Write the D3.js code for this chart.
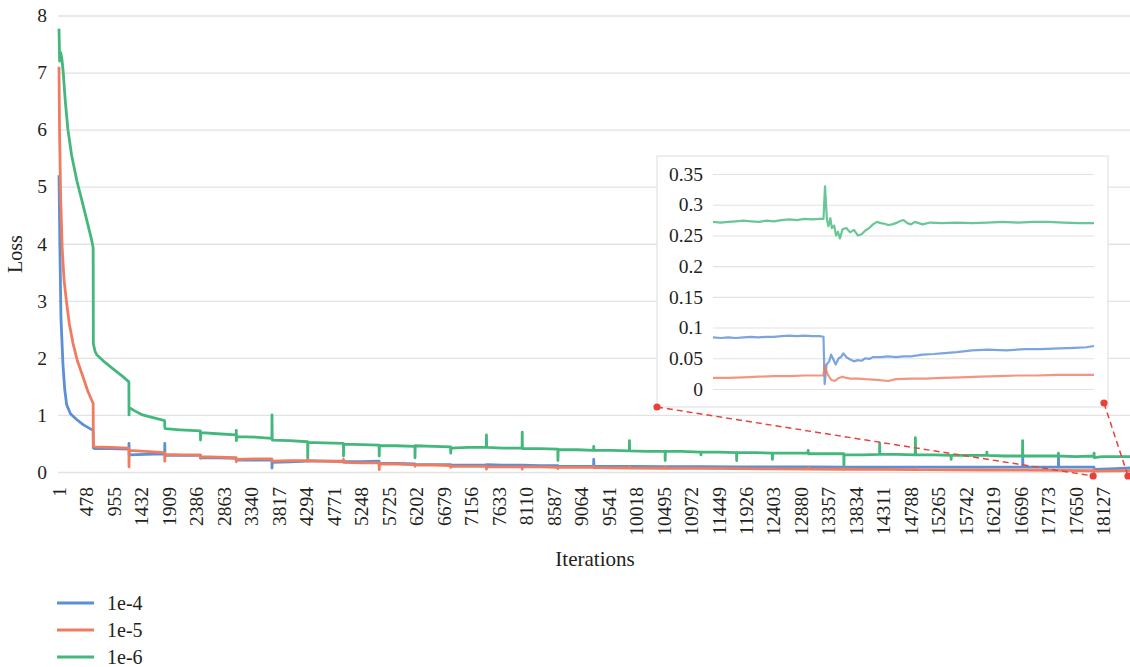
<!DOCTYPE html>
<html>
<head>
<meta charset="utf-8">
<script src="https://cdn.jsdelivr.net/npm/d3@7"></script>
<style>
  html, body { margin: 0; padding: 0; background: #fff; }
  svg { display: block; }
</style>
</head>
<body>
<svg id="chart" width="1130" height="667"></svg>
<script>
// ---- data ---------------------------------------------------------------
const seriesNames = ["1e-4", "1e-5", "1e-6"];
const seriesColors = ["#5b8fd6", "#f07c60", "#44b87c"];

const xTickLabels = [1, 478, 955, 1432, 1909, 2386, 2863, 3340, 3817, 4294, 4771, 5248,
  5725, 6202, 6679, 7156, 7633, 8110, 8587, 9064, 9541, 10018, 10495, 10972, 11449,
  11926, 12403, 12880, 13357, 13834, 14311, 14788, 15265, 15742, 16219, 16696, 17173,
  17650, 18127];
const yTickLabels = [0, 1, 2, 3, 4, 5, 6, 7, 8];
const insetTickLabels = [0, 0.05, 0.1, 0.15, 0.2, 0.25, 0.3, 0.35];

// [iteration, loss]
const loss1e4 = [
  [1,5.2],[17,3.9],[35,2.7],[69,1.9],[100,1.45],[134,1.18],[200,1.02],[307,0.92],[420,0.83],[538,0.76],[594,0.73],
  [597,0.42],[620,0.41],[900,0.41],[1214,0.4],
  [1216,0.5],[1220,0.3],[1500,0.31],[1835,0.32],
  [1837,0.5],[1841,0.29],[2150,0.29],[2455,0.29],
  [2457,0.24],[2461,0.25],[2750,0.25],[3076,0.24],
  [3078,0.21],[3400,0.21],[3696,0.21],
  [3698,0.07],[3702,0.17],[4000,0.18],[4316,0.19],
  [4318,0.2],[4600,0.19],[4937,0.19],
  [4939,0.18],[5250,0.18],[5557,0.19],
  [5559,0.12],[5563,0.15],[5850,0.15],[6178,0.14],
  [6180,0.13],[6500,0.13],[6798,0.13],
  [6800,0.12],[7100,0.12],[7418,0.12],
  [7420,0.13],[7700,0.12],[8039,0.12],
  [8041,0.12],[8350,0.11],[8659,0.11],
  [8661,0.1],[9000,0.1],[9280,0.1],
  [9282,0.22],[9286,0.1],[9600,0.1],[9900,0.1],
  [10522,0.095],[11143,0.093],[11763,0.09],[12384,0.09],[13004,0.088],
  [13624,0.086],[13626,0.05],[13630,0.085],[14245,0.085],[14865,0.085],[15486,0.085],
  [16106,0.085],[16726,0.086],[16728,0.25],[16732,0.086],[17347,0.086],[17349,0.25],
  [17353,0.086],[17965,0.085],[17967,0.01],[17971,0.045],[18100,0.05],[18350,0.06],[18590,0.07]
];
const loss1e5 = [
  [1,7.1],[10,6.0],[30,4.8],[57,3.9],[90,3.35],[134,2.96],[180,2.6],[243,2.26],[320,1.95],[417,1.67],[500,1.42],[594,1.2],
  [597,0.46],[620,0.44],[900,0.43],[1214,0.42],
  [1216,0.09],[1220,0.38],[1500,0.36],[1835,0.34],
  [1837,0.19],[1841,0.31],[2150,0.3],[2455,0.3],
  [2457,0.25],[2461,0.27],[2750,0.26],[3076,0.25],
  [3078,0.18],[3082,0.22],[3400,0.23],[3696,0.23],
  [3698,0.2],[3702,0.19],[4000,0.2],[4316,0.2],
  [4318,0.24],[4322,0.19],[4600,0.19],[4937,0.18],
  [4939,0.22],[4943,0.17],[5250,0.16],[5557,0.16],
  [5559,0.04],[5563,0.14],[5850,0.14],[6178,0.13],
  [6180,0.1],[6184,0.12],[6500,0.12],[6798,0.11],
  [6800,0.08],[6804,0.1],[7100,0.1],[7418,0.1],
  [7420,0.05],[7424,0.09],[7700,0.09],[8039,0.09],
  [8041,0.05],[8045,0.09],[8350,0.09],[8659,0.08],
  [8661,0.06],[8665,0.08],[9280,0.08],
  [9282,0.1],[9286,0.075],[9900,0.07],
  [9902,0.09],[9906,0.07],[10520,0.066],
  [10522,0.085],[10526,0.065],[11143,0.062],[11763,0.058],[12384,0.055],
  [13004,0.05],[13006,0.07],[13010,0.05],[13624,0.048],[14245,0.045],
  [14865,0.042],[14867,0.06],[14871,0.042],[15486,0.038],[16106,0.035],
  [16726,0.032],[17347,0.028],[17965,0.022],[17967,0.04],[17971,0.015],[18200,0.018],[18590,0.023]
];
const loss1e6 = [
  [1,7.77],[12,7.2],[30,7.35],[50,7.25],[75,7.0],[110,6.5],[156,6.0],[220,5.55],[312,5.1],[400,4.75],[486,4.4],[560,4.1],[594,3.93],
  [597,2.25],[625,2.12],[660,2.05],[800,1.92],[950,1.8],[1100,1.68],[1214,1.58],
  [1216,1.0],[1220,1.13],[1300,1.08],[1450,1.0],[1650,0.95],[1834,0.9],
  [1837,0.78],[1845,0.76],[2100,0.74],[2455,0.72],
  [2457,0.56],[2462,0.69],[2750,0.67],[3076,0.65],
  [3078,0.73],[3080,0.55],[3084,0.62],[3400,0.61],[3696,0.59],
  [3698,1.0],[3702,0.56],[4000,0.55],[4316,0.53],
  [4318,0.26],[4322,0.52],[4600,0.51],[4937,0.5],
  [4939,0.28],[4943,0.49],[5250,0.48],[5557,0.47],
  [5559,0.28],[5563,0.46],[5850,0.46],[6178,0.45],
  [6180,0.25],[6184,0.46],[6500,0.45],[6798,0.44],
  [6800,0.33],[6806,0.42],[7100,0.43],[7418,0.43],
  [7420,0.65],[7424,0.43],[7700,0.42],[8039,0.42],
  [8041,0.7],[8045,0.41],[8350,0.41],[8659,0.4],
  [8661,0.2],[8665,0.39],[9000,0.39],[9280,0.38],
  [9282,0.45],[9286,0.38],[9600,0.38],[9900,0.37],
  [9902,0.55],[9906,0.37],[10200,0.36],[10520,0.36],
  [10522,0.2],[10526,0.36],[10800,0.36],[11141,0.35],
  [11143,0.3],[11147,0.35],[11450,0.35],[11761,0.34],
  [11763,0.2],[11767,0.34],[12100,0.34],[12382,0.33],
  [12384,0.22],[12388,0.33],[12700,0.33],[13002,0.33],
  [13004,0.38],[13008,0.32],[13300,0.32],[13622,0.32],
  [13624,0.1],[13628,0.3],[13950,0.3],[14243,0.31],
  [14245,0.5],[14249,0.31],[14550,0.31],[14863,0.3],
  [14865,0.6],[14869,0.3],[15200,0.3],[15484,0.29],
  [15486,0.22],[15490,0.29],[15800,0.29],[16104,0.29],
  [16106,0.35],[16110,0.29],[16400,0.28],[16724,0.28],
  [16726,0.55],[16730,0.28],[17050,0.28],[17345,0.28],
  [17347,0.33],[17351,0.28],[17650,0.27],[17965,0.28],
  [17967,0.33],[17971,0.25],[18100,0.27],[18350,0.27],[18590,0.27]
];

// close-up of the final stretch: [step, loss]
const zoom1e4 = [
  [0,0.084],[2,0.083],[4,0.084],[6,0.083],[8,0.084],[10,0.085],[12,0.084],[14,0.085],[16,0.085],
  [18,0.086],[20,0.087],[22,0.086],[24,0.087],[26,0.086],[28,0.086],[29,0.085],
  [29.3,0.008],[29.8,0.04],[30.5,0.045],[31,0.056],[31.6,0.048],[32.2,0.04],[33,0.05],[33.6,0.052],
  [34.2,0.058],[35,0.052],[36,0.048],[37,0.045],[38,0.047],[39,0.046],[40,0.05],[41,0.049],
  [42,0.052],[44,0.052],[46,0.053],[48,0.052],[50,0.053],[52,0.053],[55,0.056],[58,0.057],
  [60,0.058],[64,0.06],[68,0.063],[72,0.064],[77,0.063],[82,0.065],[86,0.065],[91,0.066],
  [95,0.067],[98,0.068],[100,0.07]
];
const zoom1e5 = [
  [0,0.018],[4,0.018],[8,0.019],[12,0.02],[16,0.021],[20,0.021],[24,0.022],[28,0.022],[29,0.022],
  [29.3,0.038],[30,0.025],[31,0.015],[32,0.013],[33,0.018],[34,0.02],[35,0.018],[36,0.017],
  [38,0.017],[40,0.016],[43,0.015],[46,0.013],[48,0.016],[52,0.017],[56,0.017],[60,0.018],
  [65,0.019],[70,0.02],[75,0.021],[80,0.022],[85,0.022],[90,0.023],[95,0.023],[100,0.023]
];
const zoom1e6 = [
  [0,0.272],[2,0.271],[4,0.272],[6,0.273],[8,0.274],[10,0.273],[12,0.272],[14,0.274],[16,0.273],
  [18,0.275],[20,0.276],[22,0.275],[24,0.277],[26,0.276],[28,0.277],[29,0.277],
  [29.4,0.33],[29.9,0.275],[30.3,0.265],[30.8,0.278],[31.2,0.262],[31.8,0.266],[32.3,0.25],
  [32.8,0.256],[33.3,0.245],[34,0.26],[35,0.262],[36,0.255],[37,0.259],[38,0.25],[39,0.252],
  [40,0.258],[41,0.262],[42,0.268],[43,0.272],[44,0.27],[45,0.269],[46,0.267],[47,0.268],
  [48,0.27],[49,0.273],[50,0.275],[51,0.27],[52,0.268],[53,0.272],[54,0.27],[55,0.268],
  [57,0.271],[60,0.27],[64,0.271],[68,0.27],[72,0.271],[76,0.272],[80,0.271],[84,0.272],
  [88,0.272],[92,0.271],[96,0.27],[100,0.27]
];
// iteration window shown in the close-up
const zoomWindow = [17950, 18555];

// ---- layout ---------------------------------------------------------------
const svg = d3.select("#chart");
const plot = { left: 59, right: 1130, top: 15.5, bottom: 472 };
const inset = { left: 657, right: 1108, top: 156, bottom: 407,
                plotLeft: 713, plotRight: 1094, plotTop: 174, plotBottom: 389 };
const textColor = "#231f20";
const gridColor = "#e2e2e2";
const serif = '"Liberation Serif", "Times New Roman", serif';

// apply the serif face and size directly on a text selection
const styleText = (sel, size) => sel.style("font-family", serif).style("font-size", size + "px").attr("fill", textColor);

const x = d3.scaleLinear().domain([1, 18590]).range([plot.left, plot.right]);
const y = d3.scaleLinear().domain([0, 8]).range([plot.bottom, plot.top]);

// grid + y axis
const yAxis = d3.axisLeft(y).tickValues(yTickLabels).tickSize(-(plot.right - plot.left + 1)).tickPadding(11);
const gy = svg.append("g").attr("transform", `translate(${plot.left - 1},0)`).call(yAxis);
gy.select(".domain").remove();
gy.selectAll(".tick line").attr("stroke", gridColor).attr("stroke-width", 1.3);
styleText(gy.selectAll(".tick text"), 19.5);

// x axis labels (rotated)
const xAxis = d3.axisBottom(x).tickValues(xTickLabels).tickSize(0).tickFormat(d3.format("d"));
const gx = svg.append("g").attr("transform", `translate(0,${plot.bottom})`).call(xAxis);
gx.select(".domain").remove();
styleText(gx.selectAll(".tick text"), 19.5)
  .attr("text-anchor", "end")
  .attr("transform", "rotate(-90)")
  .attr("x", -15).attr("y", 0).attr("dy", "0.33em");

// axis titles
styleText(svg.append("text").attr("x", 595).attr("y", 566).attr("text-anchor", "middle"), 21).text("Iterations");
styleText(svg.append("text").attr("transform", "translate(22,254) rotate(-90)").attr("text-anchor", "middle"), 20).text("Loss");

// main lines
const line = d3.line().x(d => x(d[0])).y(d => y(d[1]));
[loss1e4, loss1e5, loss1e6].forEach((s, i) => {
  svg.append("path").datum(s).attr("d", line)
    .attr("fill", "none").attr("stroke", seriesColors[i])
    .attr("stroke-width", 2.8).attr("stroke-linejoin", "round");
});

// legend
const legend = svg.append("g");
seriesNames.forEach((name, i) => {
  const ly = 603 + i * 27;
  legend.append("line").attr("x1", 57).attr("x2", 94).attr("y1", ly).attr("y2", ly)
    .attr("stroke", seriesColors[i]).attr("stroke-width", 3);
  styleText(legend.append("text").attr("x", 107).attr("y", ly).attr("dy", "0.35em"), 20).text(name);
});

// ---- close-up panel ---------------------------------------------------------
const ix = d3.scaleLinear().domain([0, 100]).range([inset.plotLeft, inset.plotRight]);
const iy = d3.scaleLinear().domain([0, 0.35]).range([inset.plotBottom, inset.plotTop]);

svg.append("rect").attr("x", inset.left).attr("y", inset.top)
  .attr("width", inset.right - inset.left).attr("height", inset.bottom - inset.top)
  .attr("fill", "#fff").attr("stroke", "#e4e4e4").attr("stroke-width", 1.3);

const iyAxis = d3.axisLeft(iy).tickValues(insetTickLabels)
  .tickSize(-(inset.plotRight - inset.plotLeft)).tickPadding(10).tickFormat(d => String(d));
const giy = svg.append("g").attr("transform", `translate(${inset.plotLeft},0)`).call(iyAxis);
giy.select(".domain").remove();
giy.selectAll(".tick line").attr("stroke", gridColor).attr("stroke-width", 1.1);
styleText(giy.selectAll(".tick text"), 19.5);

const iline = d3.line().x(d => ix(d[0])).y(d => iy(d[1]));
[zoom1e4, zoom1e5, zoom1e6].forEach((s, i) => {
  svg.append("path").datum(s).attr("d", iline)
    .attr("fill", "none").attr("stroke", seriesColors[i]).attr("stroke-opacity", 0.8)
    .attr("stroke-width", 2.2).attr("stroke-linejoin", "round");
});

// connectors from the close-up to the iteration window it magnifies
const red = "#e8413c";
const markY = y(-0.07);
const links = [
  [[inset.left, inset.bottom], [x(zoomWindow[0]), markY]],
  [[inset.right - 4, inset.bottom - 4], [x(zoomWindow[1]), markY]]
];
links.forEach(([a, b]) => {
  svg.append("line").attr("x1", a[0]).attr("y1", a[1]).attr("x2", b[0]).attr("y2", b[1])
    .attr("stroke", red).attr("stroke-width", 1.5).attr("stroke-dasharray", "6,4");
  [a, b].forEach(p => svg.append("circle").attr("cx", p[0]).attr("cy", p[1]).attr("r", 3.6).attr("fill", red));
});
</script>
</body>
</html>
